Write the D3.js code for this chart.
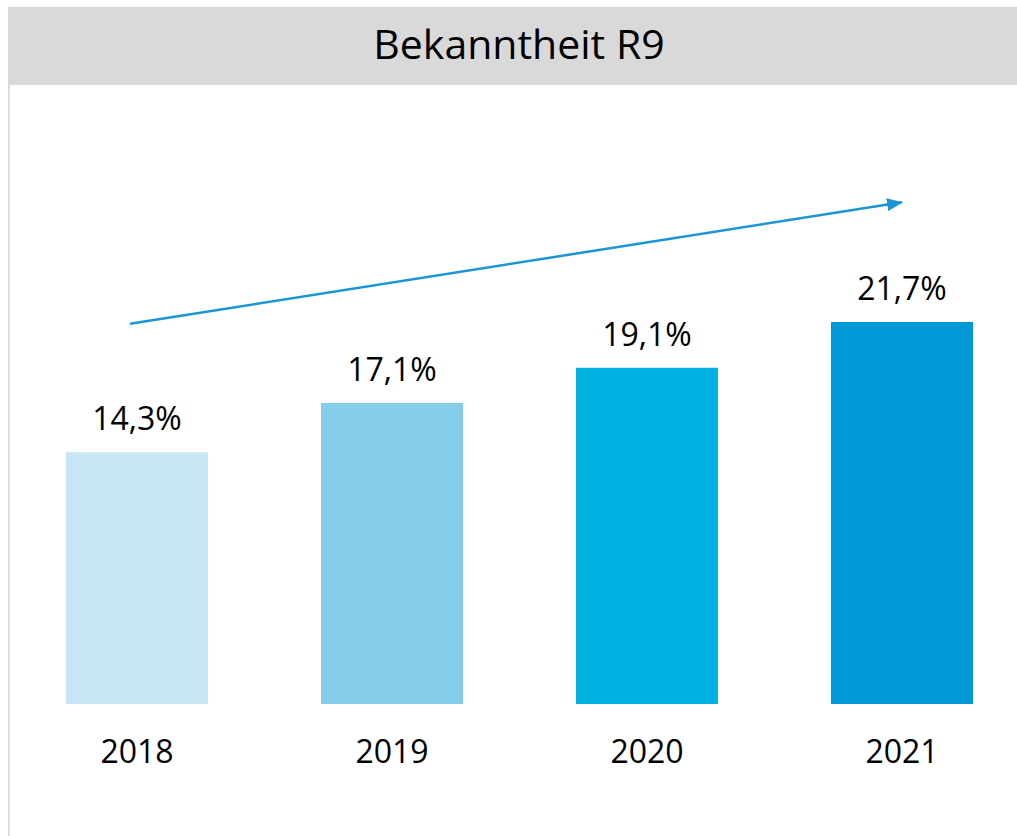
<!DOCTYPE html>
<html>
<head>
<meta charset="utf-8">
<script src="https://cdn.jsdelivr.net/npm/d3@7"></script>
<style>
  body { margin: 0; background: #fff; }
  text { font-family: "Open Sans", sans-serif; fill: #000; }
</style>
</head>
<body>
<script>
// chart data
var years = ["2018", "2019", "2020", "2021"];
var values = [14.3, 17.1, 19.1, 21.7];
var barColors = ["#c7e5f5", "#84cdeb", "#00b1e1", "#0098d8"];
var title = "Bekanntheit R9";
// trend arrow, in data units (year, percent)
var arrowFrom = ["2018", 21.6];
var arrowTo = ["2021", 28.5];

var width = 1017, height = 836;

var svg = d3.select("body").append("svg")
    .attr("width", width)
    .attr("height", height);

// title bar
svg.append("rect")
    .attr("x", 8).attr("y", 7)
    .attr("width", width - 8).attr("height", 78)
    .attr("fill", "#d9d9d9");

svg.append("text")
    .attr("x", 519).attr("y", 59)
    .attr("text-anchor", "middle")
    .attr("font-size", "41px")
    .text(title);

// left border
svg.append("line")
    .attr("x1", 9).attr("x2", 9)
    .attr("y1", 85).attr("y2", height)
    .attr("stroke", "#dcdcdc")
    .attr("stroke-width", 2);

// scales
var x = d3.scaleBand()
    .domain(years)
    .range([66, 973])
    .paddingInner(0.443)
    .paddingOuter(0);

var y = d3.scaleLinear()
    .domain([0, 21.7])
    .range([704, 322]);

// bars
svg.selectAll(".bar")
    .data(years)
    .enter()
    .append("rect")
    .attr("class", "bar")
    .attr("x", function(d) { return x(d); })
    .attr("y", function(d, i) { return y(values[i]); })
    .attr("width", x.bandwidth())
    .attr("height", function(d, i) { return y(0) - y(values[i]); })
    .attr("fill", function(d, i) { return barColors[i]; });

// value labels
svg.selectAll(".val")
    .data(years)
    .enter()
    .append("text")
    .attr("class", "val")
    .attr("x", function(d) { return x(d) + x.bandwidth() / 2; })
    .attr("y", function(d, i) { return y(values[i]) - 22; })
    .attr("text-anchor", "middle")
    .attr("font-size", "32px")
    .text(function(d, i) { return values[i].toFixed(1).replace(".", ",") + "%"; });

// x axis (labels only)
var xAxis = svg.append("g")
    .attr("transform", "translate(0," + y(0) + ")")
    .call(d3.axisBottom(x).tickSize(0).tickPadding(0));
xAxis.select(".domain").remove();
xAxis.selectAll("text")
    .attr("dy", null)
    .attr("y", 59)
    .attr("font-size", "32px")
    .style("font-family", "'Open Sans', sans-serif")
    .attr("fill", "#000");

// trend arrow
svg.append("defs").append("marker")
    .attr("id", "head")
    .attr("viewBox", "0 0 16 13")
    .attr("refX", 15).attr("refY", 6.5)
    .attr("markerWidth", 16).attr("markerHeight", 13)
    .attr("markerUnits", "userSpaceOnUse")
    .attr("orient", "auto")
    .append("path")
    .attr("d", "M0,0 L16,6.5 L0,13 Z")
    .attr("fill", "#1a96d4");

svg.append("line")
    .attr("x1", x(arrowFrom[0]) + x.bandwidth() / 2 - 7)
    .attr("y1", y(arrowFrom[1]))
    .attr("x2", x(arrowTo[0]) + x.bandwidth() / 2)
    .attr("y2", y(arrowTo[1]))
    .attr("stroke", "#1a96d4")
    .attr("stroke-width", 2.5)
    .attr("marker-end", "url(#head)");
</script>
</body>
</html>
